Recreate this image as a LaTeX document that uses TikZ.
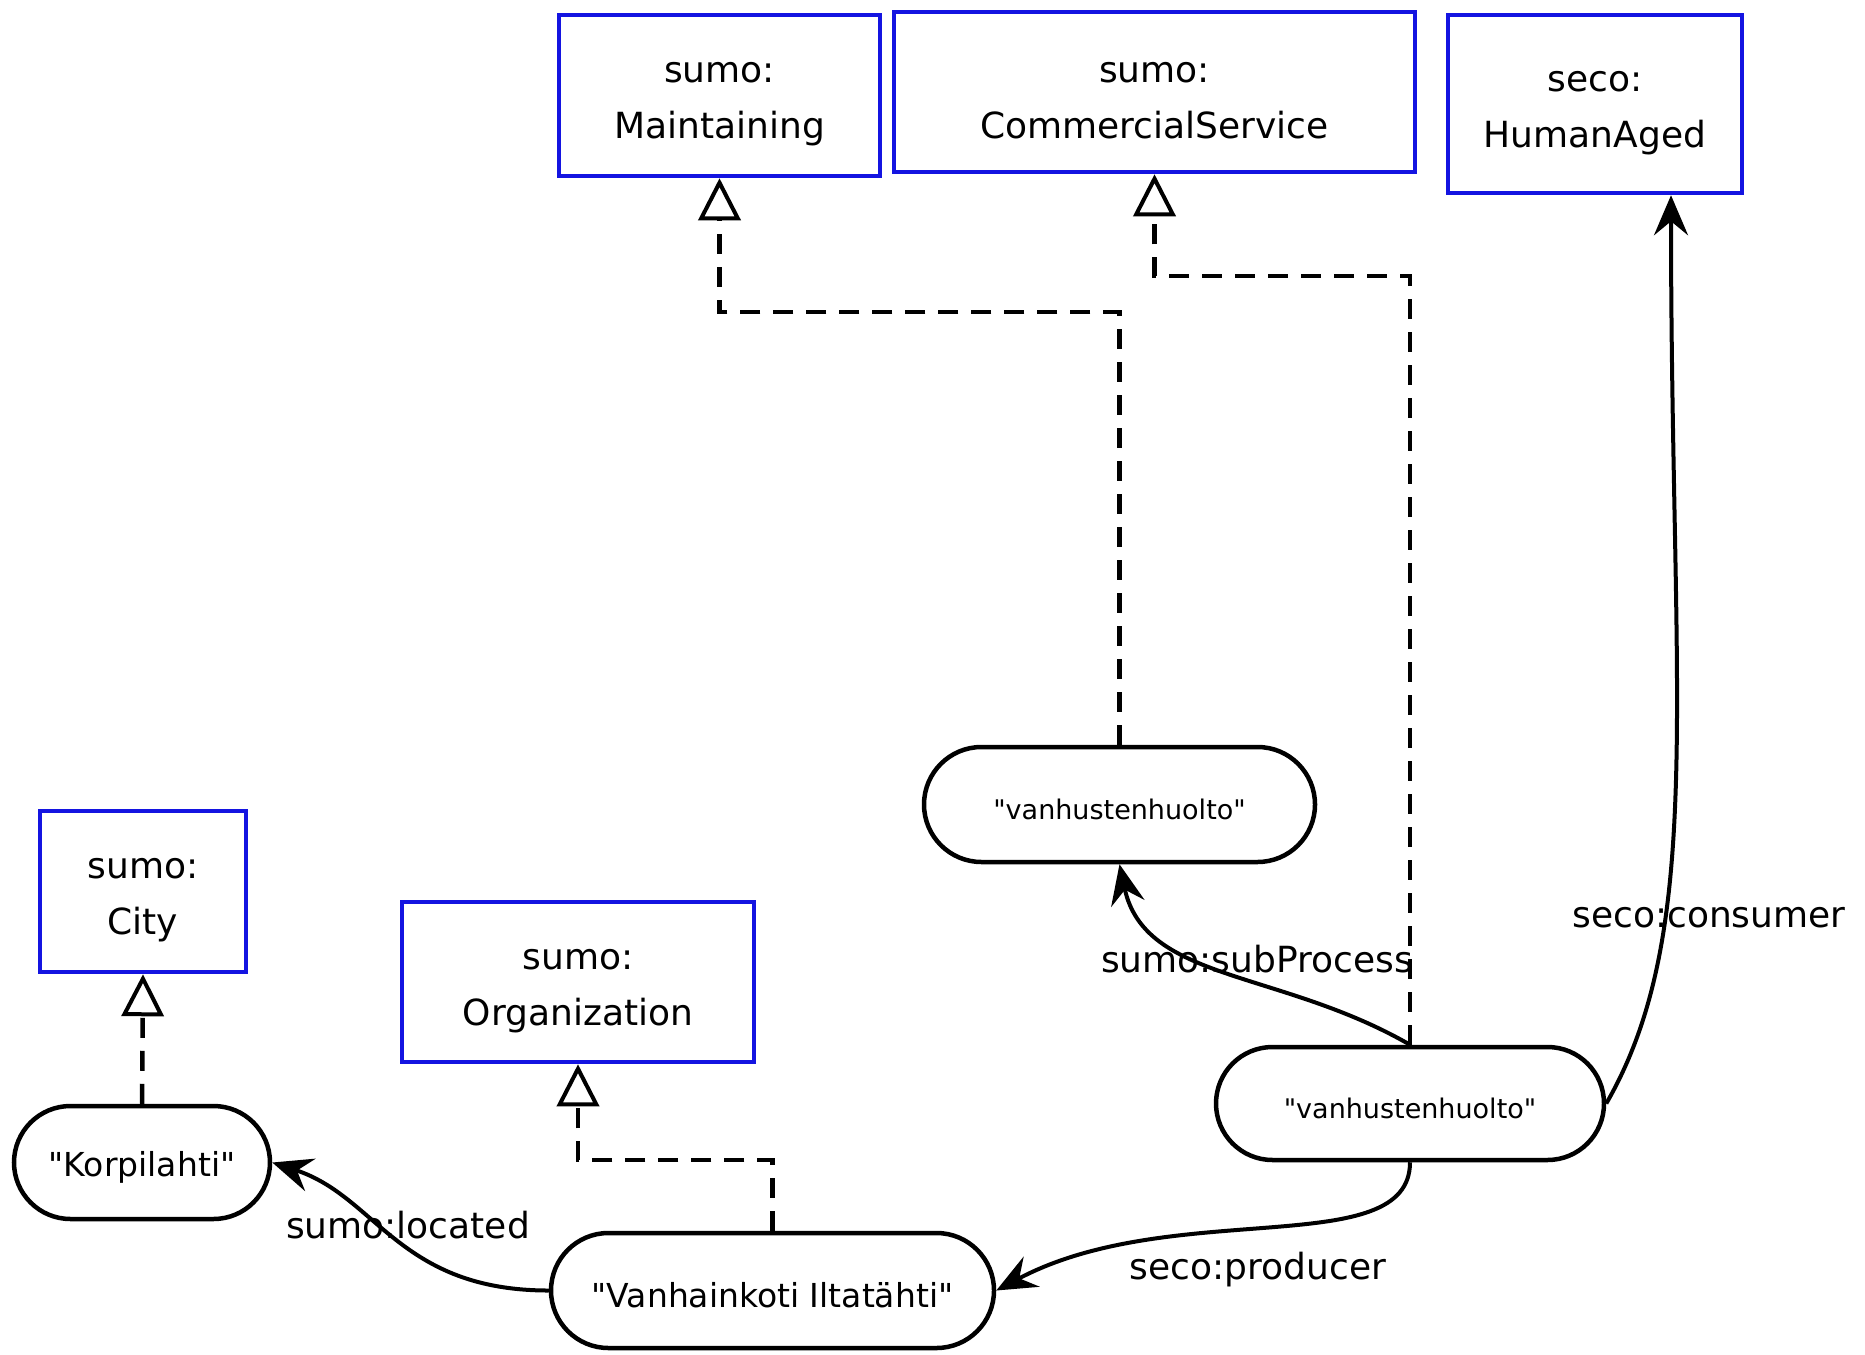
\documentclass[tikz,border=0pt]{standalone}
\usepackage{fontspec}
\setmainfont{DejaVu Sans}[Ligatures=TeXOff]
\usetikzlibrary{arrows.meta,shapes.misc}
\definecolor{boxblue}{RGB}{20,20,225}
\begin{document}
\begin{tikzpicture}[x=1pt,y=1pt,
  cls/.style={draw=boxblue, line width=4.5pt, fill=white, inner sep=0pt},
  clstext/.style={font=\fontsize{36}{56}\selectfont, align=center, inner sep=0pt, yshift=-9pt},
  lit/.style={draw=black, line width=4.5pt, rounded rectangle, fill=white, inner sep=0pt},
  littext/.style={font=\fontsize{33}{40}\selectfont, inner sep=0pt, yshift=-5pt},
  litsmalltext/.style={font=\fontsize{27}{32}\selectfont, inner sep=0pt, yshift=-5pt},
  gen/.style={line width=4.5pt, dash pattern=on 20pt off 13pt,
    -{Triangle[open, length=42pt, width=42pt, line width=4pt]}},
  rel/.style={line width=4pt, -{Stealth[length=40pt, width=34pt, inset=14pt]}},
  lbl/.style={font=\fontsize{36}{44}\selectfont, inner sep=0pt}
]
\useasboundingbox (0,0) rectangle (1865,-1354);

% class boxes
\node[cls, minimum width=321pt, minimum height=161pt, label={[clstext]center:sumo:\\Maintaining}] (maint) at (719.5,-95.5) {};
\node[cls, minimum width=521pt, minimum height=160pt, label={[clstext]center:sumo:\\CommercialService}] (comm) at (1154.5,-92) {};
\node[cls, minimum width=294pt, minimum height=178pt, label={[clstext]center:seco:\\HumanAged}] (human) at (1595,-104) {};
\node[cls, minimum width=206pt, minimum height=161pt, label={[clstext]center:sumo:\\City}] (city) at (143,-891.5) {};
\node[cls, minimum width=352pt, minimum height=160pt, label={[clstext]center:sumo:\\Organization}] (org) at (578,-982) {};

% literal nodes
\node[lit, minimum width=256pt, minimum height=113pt, label={[littext]center:"Korpilahti"}] (korp) at (142,-1162.5) {};
\node[lit, minimum width=443pt, minimum height=115pt, label={[littext]center:"Vanhainkoti Iltatähti"}] (vanh) at (772.5,-1290.5) {};
\node[lit, minimum width=391pt, minimum height=115pt, label={[litsmalltext]center:"vanhustenhuolto"}] (vh1) at (1119.5,-804.5) {};
\node[lit, minimum width=388pt, minimum height=113pt, label={[litsmalltext]center:"vanhustenhuolto"}] (vh2) at (1410,-1103.5) {};

% junction coordinates for dashed connectors
\coordinate (j1) at (900,-312);
\coordinate (j2) at (1300,-276);
\coordinate (j3) at (700,-1160);

% generalization (dashed) connectors
\draw[gen] (vh1.north) |- (j1) -| (maint.south);
\draw[gen] (vh2.north) |- (j2) -| (comm.south);
\draw[gen] (korp.north) -- (city.south);
\draw[gen] (vanh.north) |- (j3) -| (org.south);

% edge labels
\node[lbl] (lsub) at (1257,-959) {sumo:subProcess};
\node[lbl] (lcons) at (1709,-918) {seco:consumer};
\node[lbl] (lprod) at (1258,-1270) {seco:producer};
\node[lbl] (lloc) at (408,-1225) {sumo:located};

% relations
\coordinate (hAnchor) at ([xshift=76pt]human.south);
\draw[rel] (vh2.north) to[out=150, in=-78, out distance=150pt, in distance=120pt] (vh1.south);
\draw[rel] (vh2.east) to[out=60, in=-90, out distance=200pt, in distance=500pt] (hAnchor);
\draw[rel] (vh2.south) to[out=-90, in=28, out distance=100pt, in distance=200pt] (vanh.east);
\draw[rel] (vanh.west) to[out=180, in=-18, out distance=150pt, in distance=110pt] (korp.east);
\end{tikzpicture}
\end{document}
